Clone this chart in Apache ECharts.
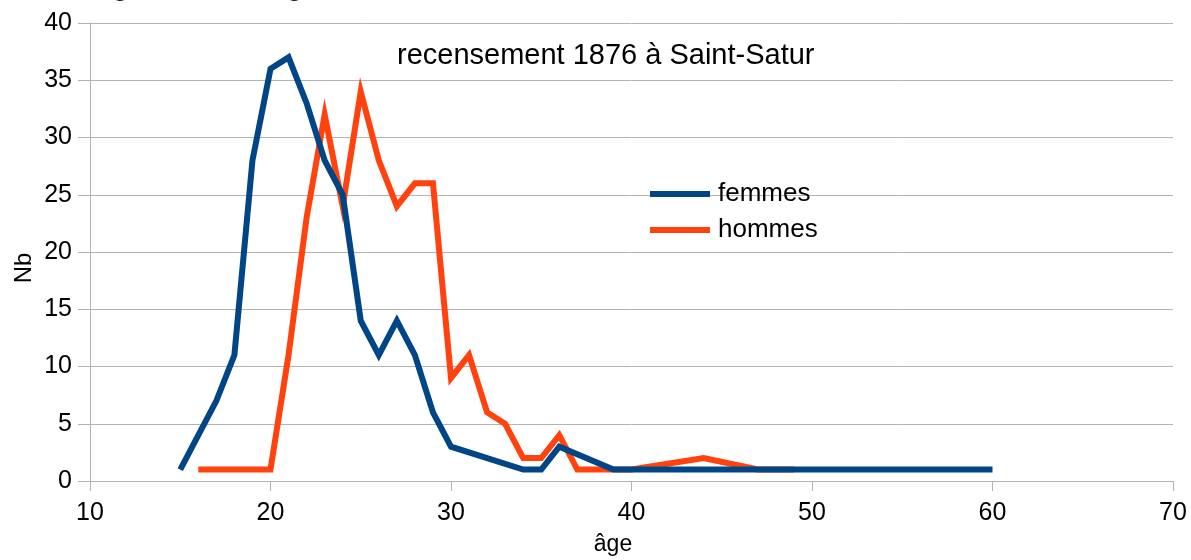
<!DOCTYPE html>
<html>
<head>
<meta charset="utf-8">
<script src="https://cdn.jsdelivr.net/npm/echarts@6/dist/echarts.min.js"></script>
<style>
html,body{margin:0;padding:0;background:#fff;}
#chart{width:1191px;height:560px;}
</style>
</head>
<body>
<div id="chart"></div>
<script>
// ---- data ----
const femmesAges   = [15, 17, 18, 19, 20, 21, 22, 23, 24, 25, 26, 27, 28, 29, 30, 34, 35, 36, 39, 60];
const femmesCounts = [ 1,  7, 11, 28, 36, 37, 33, 28, 25, 14, 11, 14, 11,  6,  3,  1,  1,  3,  1,  1];

const hommesAges   = [16, 20, 21, 22, 23, 24, 25, 26, 27, 28, 29, 30, 31, 32, 33, 34, 35, 36, 37, 40, 44, 47, 49];
const hommesCounts = [ 1,  1, 11, 23, 32, 24, 34, 28, 24, 26, 26,  9, 11,  6,  5,  2,  2,  4,  1,  1,  2,  1,  1];

const seriesNames = ['femmes', 'hommes'];
const titleText = 'recensement 1876 à Saint-Satur';
const topTitleText = 'Âge au mariage';
const xAxisName = 'âge';
const yAxisName = 'Nb';

const FONT = '"Liberation Sans", Arial, sans-serif';
const BLUE = '#004586';
const ORANGE = '#ff420e';
const GRIDC = '#b3b3b3';

const chart = echarts.init(document.getElementById('chart'), null, {renderer: 'canvas'});

const pairs = (xs, ys) => xs.map((x, i) => [x, ys[i]]);

const option = {
  backgroundColor: '#fff',
  animation: false,
  textStyle: {fontFamily: FONT},
  grid: {left: 90, right: 18, top: 23, bottom: 79, containLabel: false},
  legend: {
    data: seriesNames,
    orient: 'vertical',
    left: 645,
    top: 174,
    itemWidth: 60,
    itemHeight: 6,
    itemGap: 6,
    icon: 'rect',
    textStyle: {fontFamily: FONT, fontSize: 26, color: '#000', lineHeight: 30, padding: [0, 0, 0, 3]}
  },
  xAxis: {
    type: 'value',
    min: 10, max: 70, interval: 10,
    axisLine: {show: true, onZero: false, lineStyle: {color: GRIDC, width: 1}},
    axisTick: {show: true, length: 10, lineStyle: {color: GRIDC, width: 1}},
    axisLabel: {fontFamily: FONT, fontSize: 25, color: '#000', margin: 20, lineHeight: 25},
    splitLine: {show: false}
  },
  yAxis: {
    type: 'value',
    min: 0, max: 40, interval: 5,
    axisLine: {show: true, lineStyle: {color: GRIDC, width: 1}},
    axisTick: {show: true, length: 12, lineStyle: {color: GRIDC, width: 1}},
    axisLabel: {fontFamily: FONT, fontSize: 25, color: '#000', margin: 18},
    splitLine: {show: true, lineStyle: {color: GRIDC, width: 1}}
  },
  graphic: [
    {type: 'text', x: 397, y: 56,
     style: {text: titleText, font: '29px ' + FONT, fill: '#000', verticalAlign: 'middle', align: 'left'}},
    {type: 'text', x: 89, y: -15.5, silent: true,
     style: {text: topTitleText, font: '33px ' + FONT, fill: '#000', verticalAlign: 'middle', align: 'left'}},
    {type: 'text', x: 24, y: 268, rotation: Math.PI / 2,
     style: {text: yAxisName, font: '24px ' + FONT, fill: '#000', verticalAlign: 'middle', align: 'center'}},
    {type: 'text', x: 613, y: 545,
     style: {text: xAxisName, font: '23px ' + FONT, fill: '#000', verticalAlign: 'middle', align: 'center'}}
  ],
  series: [
    {
      name: 'hommes', type: 'line', data: pairs(hommesAges, hommesCounts),
      showSymbol: false, symbol: 'none', color: ORANGE,
      lineStyle: {color: ORANGE, width: 6, join: 'miter'}, z: 2
    },
    {
      name: 'femmes', type: 'line', data: pairs(femmesAges, femmesCounts),
      showSymbol: false, symbol: 'none', color: BLUE,
      lineStyle: {color: BLUE, width: 6, join: 'miter'}, z: 3
    }
  ]
};
chart.setOption(option);
</script>
</body>
</html>
